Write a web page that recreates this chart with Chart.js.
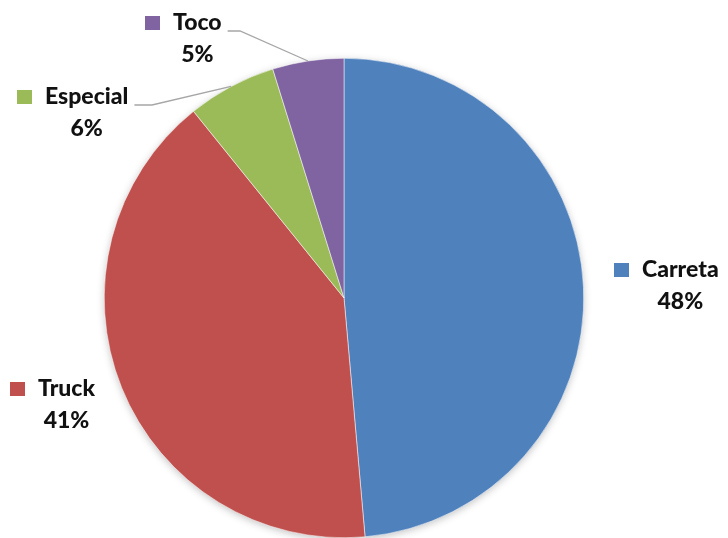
<!DOCTYPE html>
<html lang="pt">
<head>
<meta charset="utf-8">
<script src="https://cdn.jsdelivr.net/npm/chart.js@4/dist/chart.umd.min.js"></script>
<style>
  html, body { margin: 0; padding: 0; background: #fff; }
  #wrap { width: 728px; height: 538px; }
</style>
</head>
<body>
<div id="wrap"><canvas id="myChart" width="728" height="538"></canvas></div>
<script>
// data
const categories = ["Carreta", "Truck", "Especial", "Toco"];
const shares = [48.6, 40.6, 6.0, 4.8];
const pctLabels = ["48%", "41%", "6%", "5%"];
const colors = ["#4F81BD", "#C0504D", "#9BBB59", "#8064A2"];

// where each label block sits (legend square left edge, first line centre y)
const labelPos = [
  { x: 614, y: 270, leader: false },
  { x: 10, y: 389, leader: false },
  { x: 17, y: 97, leader: true, elbow: 152 },
  { x: 145, y: 23, leader: true, elbow: 240 }
];

const shadowPlugin = {
  id: "pieShadow",
  beforeDatasetsDraw(chart) {
    const arc = chart.getDatasetMeta(0).data[0];
    if (!arc) return;
    const { x, y, outerRadius } = arc.getProps(["x", "y", "outerRadius"], true);
    const c = chart.ctx;
    c.save();
    c.shadowColor = "rgba(0,0,0,0.28)";
    c.shadowBlur = 9;
    c.shadowOffsetY = 2;
    c.fillStyle = "#ffffff";
    c.beginPath();
    c.arc(x, y, outerRadius - 1, 0, Math.PI * 2);
    c.fill();
    c.restore();
  }
};

const labelPlugin = {
  id: "pieLabels",
  afterDatasetsDraw(chart) {
    const ctx = chart.ctx;
    const meta = chart.getDatasetMeta(0);
    ctx.save();
    ctx.font = "900 23px Lato, 'Open Sans', sans-serif";
    ctx.textBaseline = "middle";
    meta.data.forEach((arc, i) => {
      const p = labelPos[i];
      const name = categories[i];
      // square
      ctx.fillStyle = colors[i];
      ctx.fillRect(p.x, p.y - 7, 15, 14);
      // name
      ctx.fillStyle = "#111";
      ctx.textAlign = "left";
      const tx = p.x + 28;
      ctx.fillText(name, tx, p.y);
      const w = ctx.measureText(name).width;
      // percent centred under the name
      ctx.textAlign = "center";
      ctx.fillText(pctLabels[i], tx + w / 2, p.y + 32);
      if (p.leader) {
        const { x, y, startAngle, endAngle, outerRadius } = arc.getProps(
          ["x", "y", "startAngle", "endAngle", "outerRadius"], true);
        const mid = (startAngle + endAngle) / 2;
        const ex = x + Math.cos(mid) * outerRadius;
        const ey = y + Math.sin(mid) * outerRadius;
        const sx = tx + w + 6;
        const sy = p.y + 8;
        ctx.strokeStyle = "#A6A6A6";
        ctx.lineWidth = 1.3;
        ctx.beginPath();
        ctx.moveTo(sx, sy);
        ctx.lineTo(p.elbow, sy);
        ctx.lineTo(ex, ey);
        ctx.stroke();
      }
    });
    ctx.restore();
  }
};

const ctx = document.getElementById("myChart").getContext("2d");
const myChart = new Chart(ctx, {
  type: "pie",
  data: {
    labels: categories,
    datasets: [{
      data: shares,
      backgroundColor: colors,
      borderColor: "#ffffff",
      borderWidth: 0.5
    }]
  },
  options: {
    responsive: false,
    animation: false,
    layout: { padding: { left: 104, right: 144, top: 58, bottom: 0 } },
    plugins: {
      legend: { display: false },
      tooltip: { enabled: false }
    }
  },
  plugins: [shadowPlugin, labelPlugin]
});
</script>
</body>
</html>
